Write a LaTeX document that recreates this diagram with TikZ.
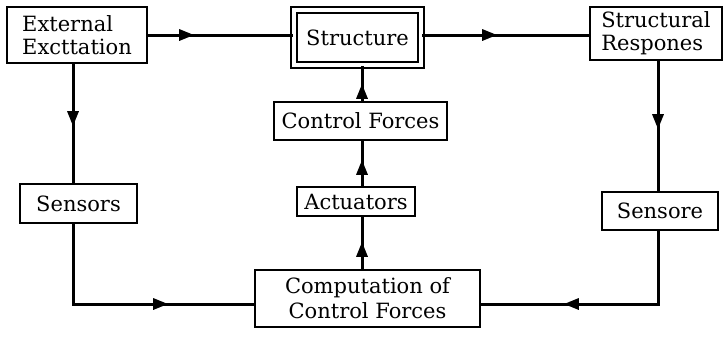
\documentclass[tikz,border=0pt]{standalone}
\usepackage{fontspec}
\setmainfont{DejaVu Serif}
\usetikzlibrary{arrows.meta,decorations.markings}
\begin{document}
\begin{tikzpicture}[x=1pt,y=-1pt,
  box/.style={draw,line width=2.4pt,inner sep=0pt,font=\fontsize{21}{23}\selectfont},
  conn/.style={line width=3pt},
  tipat/.style={postaction={decorate},decoration={markings,
     mark=at position #1 with {\arrow{Triangle[length=15pt,width=11pt]}}}}
]
\useasboundingbox (0,0) rectangle (727,338);
\node[box,minimum width=140pt,minimum height=56pt,align=left] (ext) at (77,35) {External\\Excttation};
\node[box,double,double distance=4pt,minimum width=127pt,minimum height=55pt] (struct) at (357.5,37.5) {Structure};
\node[box,minimum width=132pt,minimum height=53pt,align=left] (resp) at (656,33.5) {Structural\\Respones};
\node[box,minimum width=173pt,minimum height=38pt] (ctrl) at (360.5,121) {Control Forces};
\node[box,minimum width=117pt,minimum height=39pt] (sens) at (78.5,203.5) {Sensors};
\node[box,minimum width=118pt,minimum height=29pt] (act) at (356,201.5) {Actuators};
\node[box,minimum width=116pt,minimum height=38pt] (sensr) at (660,211) {Sensore};
\node[box,minimum width=225pt,minimum height=57pt,align=center,font=\fontsize{21}{25}\selectfont] (comp) at (367.5,298.5) {Computation of\\Control Forces};
\coordinate (cl) at (73,304);
\coordinate (cm) at (362,35);
\coordinate (cr) at (658,304);
% top row
\draw[conn,tipat=46pt] (ext.east |- cm) -- (struct.west |- cm);
\draw[conn,tipat=75pt] (struct.east |- cm) -- (resp.west |- cm);
% left column
\draw[conn,tipat=62pt] (cl |- ext.south) -- (cl |- sens.north);
\draw[conn,tipat=175pt] (cl |- sens.south) -- (cl) -- (comp.west |- cl);
% right column
\draw[conn,tipat=68pt] (cr |- resp.south) -- (cr |- sensr.north);
\draw[conn,tipat=167pt] (cr |- sensr.south) -- (cr) -- (comp.east |- cr);
% middle column
\draw[conn,tipat=27pt] (cm |- comp.north) -- (cm |- act.south);
\draw[conn,tipat=26pt] (cm |- act.north) -- (cm |- ctrl.south);
\draw[conn,tipat=17pt] (cm |- ctrl.north) -- (cm |- struct.south);
\end{tikzpicture}
\end{document}
